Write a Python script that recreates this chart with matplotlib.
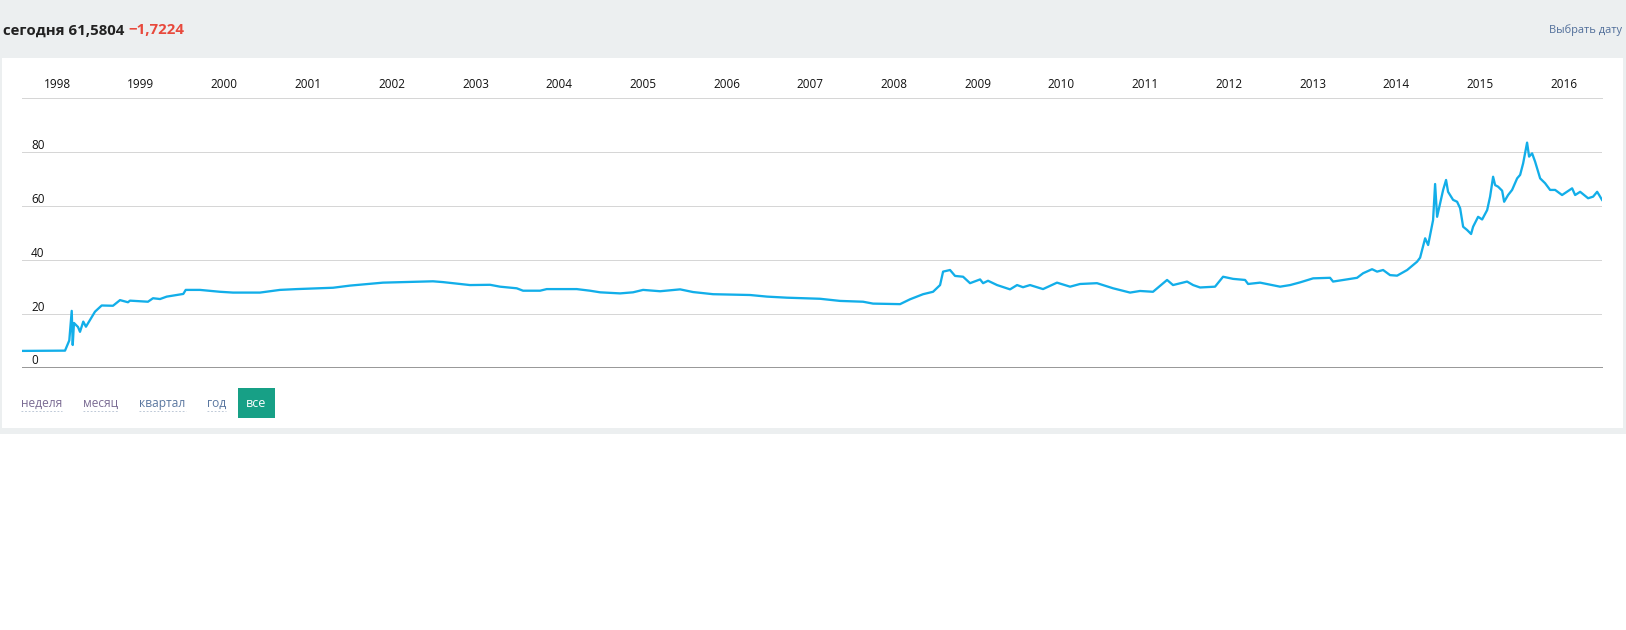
import matplotlib
matplotlib.use('Agg')
import matplotlib.pyplot as plt
from matplotlib.patches import Rectangle
from matplotlib.lines import Line2D

W, H = 1626, 630

# курс USD/RUB: время (доли года) и значение
tiempo = [
    1998.082, 1998.596, 1998.647, 1998.676, 1998.688, 1998.703, 1998.751, 1998.775,
    1998.814, 1998.846, 1998.954, 1999.034, 1999.169, 1999.253, 1999.348, 1999.372,
    1999.587, 1999.647, 1999.731, 1999.811, 1999.930, 2000.009, 2000.038, 2000.208,
    2000.447, 2000.603, 2000.925, 2001.164, 2001.364, 2001.798, 2002.001, 2002.395,
    2002.992, 2003.112, 2003.434, 2003.674, 2003.793, 2003.992, 2004.068, 2004.271,
    2004.351, 2004.709, 2004.868, 2004.988, 2005.227, 2005.382, 2005.502, 2005.705,
    2005.944, 2006.099, 2006.338, 2006.780, 2006.983, 2007.222, 2007.616, 2007.855,
    2008.130, 2008.249, 2008.572, 2008.691, 2008.847, 2008.966, 2009.050, 2009.086,
    2009.169, 2009.229, 2009.325, 2009.408, 2009.528, 2009.564, 2009.623, 2009.731,
    2009.886, 2009.970, 2010.041, 2010.125, 2010.280, 2010.447, 2010.603, 2010.722,
    2010.925, 2011.117, 2011.320, 2011.439, 2011.594, 2011.762, 2011.833, 2012.001,
    2012.073, 2012.156, 2012.335, 2012.431, 2012.551, 2012.694, 2012.730, 2012.873,
    2013.112, 2013.232, 2013.351, 2013.507, 2013.709, 2013.745, 2013.865, 2014.032,
    2014.104, 2014.211, 2014.271, 2014.343, 2014.426, 2014.510, 2014.630, 2014.749,
    2014.785, 2014.845, 2014.881, 2014.940, 2014.964, 2014.988, 2015.024, 2015.060,
    2015.095, 2015.119, 2015.179, 2015.227, 2015.263, 2015.299, 2015.346, 2015.394,
    2015.418, 2015.478, 2015.526, 2015.586, 2015.621, 2015.657, 2015.681, 2015.717,
    2015.765, 2015.789, 2015.836, 2015.884, 2015.944, 2015.980, 2016.016, 2016.063,
    2016.087, 2016.123, 2016.159, 2016.219, 2016.278, 2016.338, 2016.398, 2016.481,
    2016.601, 2016.637, 2016.697, 2016.792, 2016.852, 2016.900, 2016.924, 2016.958,
]
kurs = [
    6.1, 6.2, 10.0, 21.0, 8.3, 16.5, 15.0, 13.2,
    17.0, 15.1, 20.7, 23.0, 22.9, 25.0, 24.2, 24.8,
    24.4, 25.7, 25.4, 26.3, 26.9, 27.3, 28.8, 28.8,
    28.1, 27.8, 27.8, 28.8, 29.1, 29.6, 30.4, 31.5,
    32.0, 31.7, 30.6, 30.7, 30.0, 29.4, 28.5, 28.5,
    29.1, 29.1, 28.5, 27.9, 27.5, 27.9, 28.8, 28.3,
    29.0, 28.0, 27.2, 26.9, 26.3, 25.9, 25.5, 24.7,
    24.4, 23.7, 23.5, 25.3, 27.2, 28.1, 30.6, 35.6,
    36.2, 34.0, 33.7, 31.3, 32.7, 31.3, 32.2, 30.6,
    29.0, 30.6, 29.8, 30.6, 29.1, 31.5, 30.0, 31.0,
    31.3, 29.4, 27.8, 28.4, 28.1, 32.5, 30.6, 31.9,
    30.6, 29.7, 30.0, 33.7, 32.9, 32.5, 31.0, 31.5,
    30.0, 30.6, 31.6, 33.1, 33.3, 31.9, 32.5, 33.3,
    35.0, 36.5, 35.6, 36.2, 34.3, 34.1, 36.2, 39.3,
    40.8, 48.0, 45.5, 54.8, 68.2, 56.0, 61.0, 66.0,
    69.7, 65.3, 62.3, 61.6, 59.2, 52.3, 51.1, 49.6,
    52.3, 56.0, 55.0, 58.5, 63.5, 70.9, 67.8, 67.2,
    65.7, 61.6, 64.1, 66.0, 70.3, 71.6, 75.9, 83.6,
    78.4, 79.6, 76.5, 70.3, 68.5, 66.0, 66.0, 64.1,
    66.6, 64.1, 65.3, 62.9, 63.5, 65.3, 64.1, 62.3,
]

anos = list(range(1998, 2017))
marcas_y = [0, 20, 40, 60, 80]
periodos = ['неделя', 'месяц', 'квартал', 'год']
periodo_activo = 'все'
hoy = 'сегодня 61,5804'
cambio = '−1,7224'

FUENTE = 'Open Sans'


def pt(px):
    return px * 72 / 100


def fx(x):
    return x / W


def fy(y):
    return 1 - y / H


def fondo(fig):
    fig.patches.append(Rectangle((0, fy(434)), 1, 434 / H, transform=fig.transFigure,
                                 facecolor='#eceff0', edgecolor='none', zorder=-10))
    fig.patches.append(Rectangle((fx(2), fy(428)), (1623 - 2) / W, (428 - 58) / H,
                                 transform=fig.transFigure, facecolor='white',
                                 edgecolor='none', zorder=-9))


def encabezado(fig):
    t1 = fig.text(fx(3), fy(34.3), hoy + ' ', fontsize=pt(15), fontweight='bold',
                  color='#222222', family=FUENTE, va='baseline', ha='left')
    fig.canvas.draw()
    ext = t1.get_window_extent()
    fig.text(ext.x1 / W, fy(34.3), cambio, fontsize=pt(15), fontweight='bold',
             color='#e8493c', family=FUENTE, va='baseline', ha='left')
    fig.text(fx(1622), fy(32.7), 'Выбрать дату', fontsize=pt(11), color='#4f6d99',
             family=FUENTE, va='baseline', ha='right')


def grafico(fig):
    y0, y1 = 367.3, 98
    ax = fig.add_axes([fx(22), fy(y0), (1602 - 22) / W, (y0 - y1) / H])
    ax.set_facecolor('none')
    ax.plot(tiempo, kurs, color='#12aee9', linewidth=pt(2.3), solid_joinstyle='round')
    ax.set_xlim(1998.082, 2016.958)
    ax.set_ylim(0, (y0 - y1) / 2.6875)

    ax.set_xticks([a + 0.5 for a in anos])
    ax.set_xticklabels([str(a) for a in anos])
    ax.xaxis.tick_top()
    ax.tick_params(axis='x', length=0, pad=pt(9.7), labelsize=pt(11.8), labelcolor='#111111')
    for lab in ax.get_xticklabels():
        lab.set_verticalalignment('baseline')
        lab.set_family(FUENTE)

    ax.set_yticks(marcas_y)
    ax.tick_params(axis='y', length=0, pad=-pt(9), labelsize=pt(11.8), labelcolor='#111111')
    for lab in ax.get_yticklabels():
        lab.set_horizontalalignment('left')
        lab.set_verticalalignment('bottom')
        lab.set_family(FUENTE)

    ax.grid(axis='y', color='#d6d6d6', linewidth=pt(1))
    ax.set_axisbelow(True)
    for lado in ['left', 'right']:
        ax.spines[lado].set_visible(False)
    ax.spines['top'].set_color('#d6d6d6')
    ax.spines['top'].set_linewidth(pt(1))
    ax.spines['bottom'].set_color('#999999')
    ax.spines['bottom'].set_linewidth(pt(1))
    ax.spines['bottom'].set_zorder(3)


def botones(fig):
    x = 21
    base = 407
    fig.canvas.draw()
    colores = ['#7a6b93', '#7a6b93', '#5a77a0', '#5a77a0']
    for nombre, col in zip(periodos, colores):
        t = fig.text(fx(x), fy(base), nombre, fontsize=pt(12), color=col,
                     family=FUENTE, va='baseline', ha='left')
        ext = t.get_window_extent(renderer=fig.canvas.get_renderer())
        fig.add_artist(Line2D([ext.x0 / W, ext.x1 / W], [fy(411), fy(411)],
                              transform=fig.transFigure, color='#c0cad8',
                              linewidth=pt(1), linestyle=(0, (pt(2.5), pt(2.5)))))
        x = ext.x1 + 21
    x_btn = x - 9
    fig.patches.append(Rectangle((fx(x_btn), fy(417.7)), 37 / W, 29.7 / H,
                                 transform=fig.transFigure, facecolor='#17a086',
                                 edgecolor='none'))
    fig.text(fx(x_btn + 18.5), fy(base), periodo_activo, fontsize=pt(12.5),
             color='white', family=FUENTE, va='baseline', ha='center')


def main():
    fig = plt.figure(figsize=(W / 100, H / 100), dpi=100)
    fig.patch.set_facecolor('white')
    fondo(fig)
    encabezado(fig)
    grafico(fig)
    botones(fig)
    fig.savefig('out.png', dpi=100)


main()
